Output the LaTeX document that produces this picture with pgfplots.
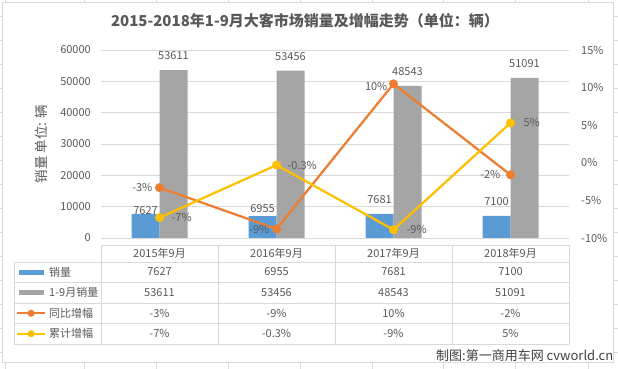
\documentclass[border=0pt]{standalone}
\usepackage{fontspec}
\setmainfont{Noto Sans CJK SC}
\usepackage{pgfplots}
\usepackage{pgfplotstable}
\pgfplotsset{compat=1.18}
\definecolor{cblue}{HTML}{5B9BD5}
\definecolor{cgray}{HTML}{A5A5A5}
\definecolor{corange}{HTML}{ED7D31}
\definecolor{cyellow}{HTML}{FFC000}
\definecolor{cgrid}{HTML}{D9D9D9}
\definecolor{ctxt}{HTML}{595959}
\newcommand\lblfont{\fontsize{11bp}{13bp}\selectfont}

\pgfplotstableread{
x y lbl dy
0 7627 7627 -1
1 6955 6955 3
2 7681 7681 10
3 7100 7100 10
}\tblsales
\pgfplotstableread{
x y lbl dy
0 53611 53611 10
1 53456 53456 10
2 48543 48543 10
3 51091 51091 10
}\tblytd
\pgfplotstableread{
x y lbl dx dy
0 -3.3 -3 -6 0
1 -8.8 -9 -6 0
2 10.5 10 -5 -3
3 -1.6 -2 -9 0
}\tblyoy
\pgfplotstableread{
x y lbl dx dy
0 -7.3 -7 11 0
1 -0.3 -0.3 10 0
2 -8.9 -9 12 0
3 5.3 5 12 0
}\tblcum

\begin{document}
\begin{tikzpicture}
\useasboundingbox (0,0) rectangle (618bp,369bp);
\fill[white] (0,0) rectangle (618bp,369bp);
\begin{scope}[x=1bp,y=1bp]
  \foreach \yy in {16,40,...,352} {
    \draw[cgrid, line width=0.75bp] (0,{369-\yy}) -- (2.5,{369-\yy});
    \draw[cgrid, line width=0.75bp] (613,{369-\yy}) -- (618,{369-\yy});
  }
  \foreach \xx in {5,84,156,228,300,372,443,515,588} {
    \draw[cgrid, line width=0.75bp] (\xx,369) -- (\xx,366.5);
    \draw[cgrid, line width=0.75bp] (\xx,7) -- (\xx,0);
  }
  \draw[cgrid, line width=0.9bp] (2.5,7) rectangle (613,366.5);
\end{scope}

\begin{axis}[
  at={(101bp,131bp)}, anchor=south west,
  width=468bp, height=188bp, scale only axis,
  xmin=-0.5, xmax=3.5, ymin=0, ymax=60000,
  ybar,
  xtick=\empty,
  ytick={0,10000,20000,30000,40000,50000,60000},
  ymajorgrids, grid style={cgrid, line width=0.75bp},
  axis line style={draw=none},
  major tick length=0pt,
  scaled y ticks=false,
  /pgf/number format/assume math mode=true,
  yticklabel style={font=\lblfont, text=ctxt, inner sep=0pt, xshift=-10bp, /pgf/number format/1000 sep={}},
  clip=false,
  nodes near coords,
  point meta=explicit symbolic,
  nodes near coords style={font=\lblfont, text=ctxt, inner sep=0pt, anchor=south},
]
\addplot[fill=cblue, draw=none, bar width=28bp, bar shift=-14bp,
  visualization depends on={\thisrow{dy} \as \dy},
  nodes near coords style={yshift=\dy bp}] table[x=x, y=y, meta=lbl]{\tblsales};
\addplot[fill=cgray, draw=none, bar width=28bp, bar shift=14bp,
  visualization depends on={\thisrow{dy} \as \dy},
  nodes near coords style={yshift=\dy bp}] table[x=x, y=y, meta=lbl]{\tblytd};
\end{axis}

\begin{axis}[
  at={(101bp,131bp)}, anchor=south west,
  width=468bp, height=188bp, scale only axis,
  xmin=-0.5, xmax=3.5, ymin=-10, ymax=15,
  xtick=\empty,
  ytick={-10,-5,0,5,10,15},
  yticklabel pos=right,
  yticklabel={\pgfmathprintnumber{\tick}\%},
  axis line style={draw=none},
  major tick length=0pt,
  /pgf/number format/assume math mode=true,
  yticklabel style={font=\lblfont, text=ctxt, inner sep=0pt, anchor=west, xshift=12bp},
  clip=false,
  legend cell align=left,
  legend style={at={(-0.18162,-0.12766)}, anchor=north west, draw=none, fill=none,
    inner sep=0pt, outer sep=0pt, row sep=0pt, column sep=3bp,
    font=\lblfont, text=ctxt,
    nodes={inner sep=0pt, minimum height=20.5bp}},
]
\addlegendimage{draw=none, legend image code/.code={\fill[cblue] (2bp,-2.5bp) rectangle (27bp,2.5bp); \path[draw=none, fill=none] (0bp,0bp) -- (28bp,0bp);}}
\addlegendimage{draw=none, legend image code/.code={\fill[cgray] (2bp,-2.5bp) rectangle (27bp,2.5bp); \path[draw=none, fill=none] (0bp,0bp) -- (28bp,0bp);}}
\addlegendimage{legend image code/.code={\draw[corange, line width=2.25bp] (0bp,0bp) -- (28bp,0bp); \fill[corange] (14bp,0bp) circle (3.3bp);}}
\addlegendimage{legend image code/.code={\draw[cyellow, line width=2.25bp] (0bp,0bp) -- (28bp,0bp); \fill[cyellow] (14bp,0bp) circle (3.3bp);}}

\addplot[corange, line width=2.25bp, mark=*, mark size=3.3bp, mark options={solid, fill=corange, draw=none}, forget plot,
  nodes near coords={\pgfplotspointmeta\%}, point meta=explicit symbolic,
  visualization depends on={\thisrow{dx} \as \dx},
  visualization depends on={\thisrow{dy} \as \dy},
  nodes near coords style={font=\lblfont, text=ctxt, inner sep=0pt, anchor=east, xshift=\dx bp, yshift=\dy bp}]
  table[x=x, y=y, meta=lbl]{\tblyoy};
\addplot[cyellow, line width=2.25bp, mark=*, mark size=3.3bp, mark options={solid, fill=cyellow, draw=none}, forget plot,
  nodes near coords={\pgfplotspointmeta\%}, point meta=explicit symbolic,
  visualization depends on={\thisrow{dx} \as \dx},
  visualization depends on={\thisrow{dy} \as \dy},
  nodes near coords style={font=\lblfont, text=ctxt, inner sep=0pt, anchor=west, xshift=\dx bp, yshift=\dy bp}]
  table[x=x, y=y, meta=lbl]{\tblcum};
\legend{销量,1-9月销量,同比增幅,累计增幅}
\end{axis}

\begin{scope}[x=1bp,y=1bp]
  % data table grid
  \draw[cgrid, line width=0.9bp] (101,124) -- (569,124);
  \foreach \yy in {107,87,66,46,25} { \draw[cgrid, line width=0.9bp] (14,\yy) -- (569,\yy); }
  \foreach \xx in {101,218,335,452,569} { \draw[cgrid, line width=0.9bp] (\xx,124) -- (\xx,25); }
  \draw[cgrid, line width=0.9bp] (14,107) -- (14,25);
  % header
  \node[font=\lblfont, text=ctxt] at (159.5,115.5) {2015年9月};
  \node[font=\lblfont, text=ctxt] at (276.5,115.5) {2016年9月};
  \node[font=\lblfont, text=ctxt] at (393.5,115.5) {2017年9月};
  \node[font=\lblfont, text=ctxt] at (510.5,115.5) {2018年9月};
  % rows
  \node[font=\lblfont, text=ctxt] at (159.5,97) {7627};
  \node[font=\lblfont, text=ctxt] at (276.5,97) {6955};
  \node[font=\lblfont, text=ctxt] at (393.5,97) {7681};
  \node[font=\lblfont, text=ctxt] at (510.5,97) {7100};
  \node[font=\lblfont, text=ctxt] at (159.5,76.5) {53611};
  \node[font=\lblfont, text=ctxt] at (276.5,76.5) {53456};
  \node[font=\lblfont, text=ctxt] at (393.5,76.5) {48543};
  \node[font=\lblfont, text=ctxt] at (510.5,76.5) {51091};
  \node[font=\lblfont, text=ctxt] at (159.5,56) {-3\%};
  \node[font=\lblfont, text=ctxt] at (276.5,56) {-9\%};
  \node[font=\lblfont, text=ctxt] at (393.5,56) {10\%};
  \node[font=\lblfont, text=ctxt] at (510.5,56) {-2\%};
  \node[font=\lblfont, text=ctxt] at (159.5,35.5) {-7\%};
  \node[font=\lblfont, text=ctxt] at (276.5,35.5) {-0.3\%};
  \node[font=\lblfont, text=ctxt] at (393.5,35.5) {-9\%};
  \node[font=\lblfont, text=ctxt] at (510.5,35.5) {5\%};
  % title, y label, credit
  \node[font=\fontsize{15bp}{18bp}\selectfont\bfseries, text=ctxt] at (305,348) {2015-2018年1-9月大客市场销量及增幅走势（单位：辆）};
  \node[rotate=90, font=\fontsize{13.5bp}{15bp}\selectfont, text=ctxt] at (41.5,225) {销量 单位: 辆};
  \node[anchor=west, inner sep=0pt, font=\fontsize{13bp}{15bp}\selectfont, text=black!75] at (436,13) {制图:第一商用车网 cvworld.cn};
\end{scope}
\end{tikzpicture}
\end{document}
